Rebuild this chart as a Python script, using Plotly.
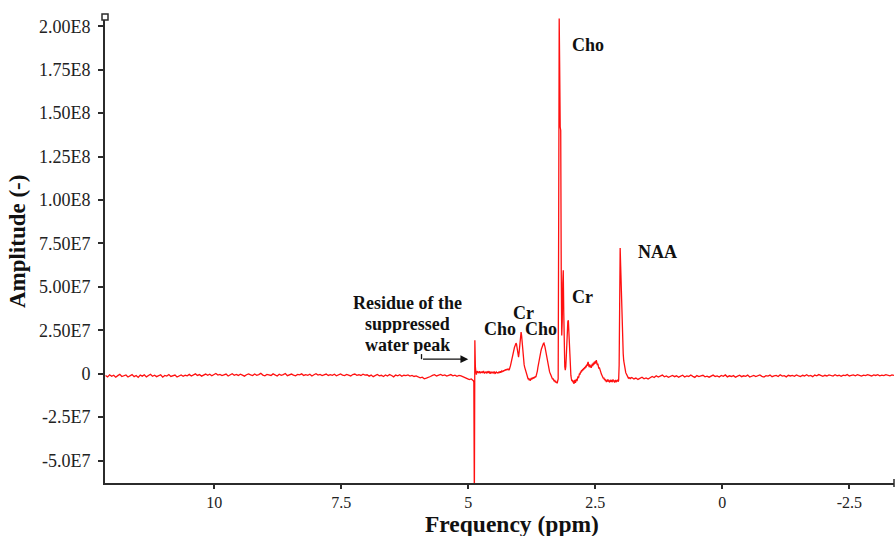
import numpy as np
import plotly.graph_objects as go

# ---------------- data (amplitudes in units of 1e6) ----------------
# each segment: ppm start, ppm end, amplitudes (evenly spaced)
left_baseline = [
    -1.0, -1.8, -0.6, -1.5, -0.9, -2.0, -1.1, -0.4, -1.6, -1.2,
    -0.7, -1.9, -1.3, -0.5, -1.7, -1.0, -2.1, -0.8, -1.4, -0.6,
    -1.8, -1.1, -0.3, -1.5, -0.9, -1.7, -1.2, -0.6, -2.0, -1.0,
    -1.4, -0.5, -1.6, -1.1, -0.8, -1.9, -1.3, -0.7, -1.5, -0.9,
    -1.2,
    -0.4, -1.3, -0.6, -0.1, -1.0, -0.5, -1.4, -0.8, -0.2, -0.9,
    -0.3, -1.2, -0.7, 0.1, -0.8, -0.4, -1.1, -0.6, -0.2, -1.3,
    -0.5, 0.0, -0.9, -0.4, -1.0, -0.3, -0.8, -1.4, -0.6, -0.1,
    -0.7, -1.1, -0.2, -0.9, -0.5, 0.2, -0.8, -1.2, -0.4, -0.6,
    -1.0, -0.1, -0.7, -1.3, -0.3, -0.9, -0.5, 0.1, -1.1, -0.6,
    -0.2, -0.8, -1.2, -0.4, -0.7, -0.1, -1.0, -0.5, -0.9, -0.3,
    -1.3, -0.6, 0.0, -0.8, -0.4, -1.1, -0.7, -0.2, -1.0, -0.5,
    -0.9, -0.3, -1.2, -0.6, -0.1, -0.8, -1.1, -0.4, -0.7, -1.3,
    -0.5, -0.2, -0.9, -0.6, -1.0, -0.3, -0.8,
    -0.6, -1.4, -0.8, -1.7, -1.1, -0.4, -1.2, -0.9, -1.6, -0.7,
    -1.3, -0.5, -1.0, -1.8, -0.8, -1.2, -0.6, -1.5, -0.9, -1.1,
    -0.7, -1.4, -1.0, -1.6, -1.3,
    -1.8, -2.4, -2.0, -2.9, -2.5, -2.2, -1.6,
    -1.0, -0.6, -1.3, -0.8, -0.4, -1.1, -0.7, -1.4, -0.9, -0.5,
    -1.2, -0.8, -1.5, -1.0, -1.3, -1.7, -2.2, -2.8, -3.4, -3.0, -4.0,
]
water_region = [
    -5.0, -75.0, 19.3, 4.0, 1.0, -0.5, 0.8, 1.5, 0.6, 1.2,
    0.3, 1.4, 0.9, 0.2, 1.1, 0.5, 1.3, 0.4, 0.9, 1.6,
    0.7, 0.1, 1.0, 0.6, 1.3, 0.2, 0.8, 1.1, 0.4, 0.9,
    1.5, 0.5, 0.0, 0.8, 1.2, 0.3, 0.7, 1.0, 0.2, 0.6,
    1.3, 0.5, -0.1, 0.7, 1.0, 0.4, 0.9, 0.2, 0.6, 1.1,
    0.5, 0.8, 1.4, 0.6, 0.9, 1.5, 1.0, 1.7, 1.2, 2.0,
    1.6, 2.3, 1.8, 2.5, 2.0, 2.7, 2.2, 2.9, 2.4,
]
cho_cr_small = [
    2.0, 2.6, 3.2, 4.5, 5.8, 7.5, 9.0, 10.8, 12.5, 13.8,
    14.5, 15.2, 16.0, 17.0, 17.6, 17.0, 15.5, 13.0, 10.5, 9.5,
    12.0, 16.5, 20.5, 23.5, 24.0, 22.0, 17.5, 13.0, 9.5, 7.0,
    5.2, 3.8, 2.6, 1.5, 0.8,
]
cho_second = [
    0.0, -1.5, -2.5, -3.2, -2.6, -3.8, -3.0, -4.0, -3.3, -2.5,
    -3.4, -2.2, -3.0, -2.0, -2.8, -1.8, -2.4, -1.5, -2.0, -1.2,
    -0.5, 1.5, 3.5, 5.5, 7.5, 9.0, 10.5, 11.8, 13.0, 14.2,
    15.2, 16.2, 17.0, 17.4, 17.6, 16.8,
    15.5, 13.8, 12.0, 10.0, 8.2, 6.4, 4.8, 3.4, 2.2, 1.2,
    0.4, -0.5, -1.2, -1.9,
    -2.6, -3.2, -2.8, -3.9, -4.3, -3.6, -4.9, -4.1, -5.3, -4.7,
]
cho_cr_main = [
    -5.5, -4.8, -3.0, 90.0, 204.5, 175.0, 142.0, 140.0, 60.0, 22.0,
    30.0, 52.0, 59.6, 35.0, 12.0, 4.0, 2.0, 4.0, 10.0, 19.0,
    26.0, 30.0, 30.8, 24.0, 13.0, 4.0,
]
multiplet = [
    0.0, -1.0, -3.0, -4.2, -3.5, -5.0, -4.0, -5.8, -4.5, -3.6,
    -5.2, -4.0, -3.0, -4.3, -2.8, -1.6, -2.5, -0.8, 0.2, -0.5,
    1.2, 0.6, 2.0, 1.4, 2.6, 2.0, 3.2, 2.5, 3.8, 3.0,
    4.5, 3.6, 5.2, 4.5, 6.0, 6.8, 5.0, 3.8, 5.4, 3.6,
    4.8, 3.4, 4.2, 5.6, 4.4, 6.2, 5.0, 6.8, 5.6, 7.2,
    6.0, 7.8, 6.5, 5.0, 5.8, 4.0, 3.0, 3.6, 2.0, 1.2,
    0.8, -0.2, -1.0, -0.6, -2.0, -2.8, -2.2, -3.6, -3.0, -4.2,
    -3.4, -4.8, -3.8, -4.4, -3.2, -4.6, -3.9, -5.0, -4.1, -3.5,
    -4.7, -3.6, -4.9, -4.0, -3.3, -4.5, -3.8, -5.1, -4.2, -3.6,
    -4.8, -3.9, -4.4, -3.5, -4.6, -3.8,
]
naa = [
    5.0, 55.0, 72.3, 62.0, 48.0, 36.0, 25.0, 17.0, 11.5, 7.5,
    5.0, 3.0, 1.8, 0.6, 0.0, -0.8, -1.6, -1.2, -2.4, -2.0,
    -2.8, -2.2, -3.0, -2.5,
]
right_baseline = [
    -2.2, -3.0, -2.5, -3.3, -2.7, -2.0, -2.9, -2.4, -3.1, -2.3,
    -1.6, -2.2, -1.2, -1.9, -1.4, -0.8, -1.8, -1.3, -2.1, -1.5,
    -1.0, -1.7, -1.2, -2.0, -1.4, -0.9, -1.9, -1.3, -1.6, -0.7,
    -1.5, -2.1, -1.1, -1.7, -1.3, -0.9, -1.8, -1.4, -2.0, -1.2,
    -0.8, -1.6, -1.3, -1.9, -1.0, -1.5, -0.7, -1.8, -1.2, -1.6,
    -1.1, -2.0, -1.4, -0.9, -1.7, -1.2, -1.5, -0.8, -1.9, -1.3,
    -1.0, -1.6, -1.2, -0.7, -1.5, -1.9, -1.1, -1.4, -0.8, -1.7,
    -1.2, -1.0, -1.6, -0.6, -1.4, -1.1, -1.8, -0.9, -1.3, -1.0,
    -1.5, -0.7, -1.2, -1.6, -0.9, -1.3, -0.6, -1.4, -1.0, -1.7,
    -0.8, -1.2, -0.5, -1.1, -1.5, -0.9, -1.3, -0.7, -1.0, -1.4,
    -0.6, -1.2, -0.9, -1.5, -0.8, -1.1, -0.5, -1.3, -1.0, -0.7,
    -1.2, -0.6, -1.0, -1.4, -0.8, -1.1, -0.5, -0.9, -1.3, -0.7,
    -1.0, -0.6, -1.2, -0.8, -1.1, -0.5, -0.9, -1.2, -0.7, -1.0,
]

segments = [
    (12.14, 4.90, left_baseline),
    (4.89, 4.21, water_region),
    (4.20, 3.86, cho_cr_small),
    (3.85, 3.26, cho_second),
    (3.25, 3.00, cho_cr_main),
    (2.99, 2.04, multiplet),
    (2.03, 1.80, naa),
    (1.78, -3.38, right_baseline),
]

x_ticks = [10, 7.5, 5, 2.5, 0, -2.5]
x_ticktext = ["10", "7.5", "5", "2.5", "0", "-2.5"]
y_ticks = [2.0e8, 1.75e8, 1.5e8, 1.25e8, 1.0e8, 7.5e7, 5.0e7, 2.5e7, 0, -2.5e7, -5.0e7]
y_ticktext = ["2.00E8", "1.75E8", "1.50E8", "1.25E8", "1.00E8", "7.50E7",
              "5.00E7", "2.50E7", "0", "-2.5E7", "-5.0E7"]

# peak labels: (text, ppm, amplitude)
peak_labels = [
    ("Cho", 2.65, 1.892e8),
    ("Cr", 2.76, 4.41e7),
    ("NAA", 1.28, 7.00e7),
    ("Cr", 3.92, 3.47e7),
    ("Cho", 4.37, 2.56e7),
    ("Cho", 3.56, 2.56e7),
]
water_note = [("Residue of the", 6.19, 4.06e7),
              ("suppressed", 6.19, 2.85e7),
              ("water peak", 6.19, 1.64e7)]

# ---------------- build ----------------
ppm = np.concatenate([np.linspace(a, b, len(v)) for a, b, v in segments])
amp = np.concatenate([np.array(v) * 1e6 for _, _, v in segments])

SERIF = "Liberation Serif, Times New Roman, serif"
AX = "#2b2b2b"

fig = go.Figure()
fig.add_trace(go.Scatter(x=ppm, y=amp, mode="lines",
                         line=dict(color="#ff1010", width=1.3), showlegend=False,
                         hoverinfo="skip"))

annotations = []
for t, x, y in peak_labels:
    annotations.append(dict(text=t, x=x, y=y, xref="x", yref="y", showarrow=False,
                            font=dict(family=SERIF, size=18, color="#111", weight="bold"),
                            xanchor="center", yanchor="middle"))
for t, x, y in water_note:
    annotations.append(dict(text=t, x=x, y=y, xref="x", yref="y", showarrow=False,
                            height=18, valign="middle",
                            font=dict(family=SERIF, size=18, color="#111", weight="bold"),
                            xanchor="center", yanchor="middle"))
# arrow pointing at the water residue
annotations.append(dict(text="", x=5.0, y=8.35e6, ax=5.92, ay=8.35e6, xref="x", yref="y",
                        axref="x", ayref="y", showarrow=True, arrowhead=2, arrowsize=1.2,
                        arrowwidth=1.3, arrowcolor="#111", standoff=0))
# axis titles
annotations.append(dict(text="Amplitude (-)", x=-0.111, y=0.52, xref="paper", yref="paper",
                        showarrow=False, textangle=-90, xanchor="center", yanchor="middle",
                        font=dict(family=SERIF, size=23, color="#111", weight="bold")))
annotations.append(dict(text="Frequency (ppm)", x=0.516, y=-0.089, xref="paper", yref="paper",
                        showarrow=False, xanchor="center", yanchor="middle",
                        font=dict(family=SERIF, size=23.5, color="#111", weight="bold")))

shapes = [
    dict(type="line", xref="x", yref="y", x0=5.92, x1=5.92, y0=8.35e6, y1=11.3e6,
         line=dict(color="#111", width=1.3)),
    dict(type="rect", xref="paper", yref="paper", xsizemode="pixel", ysizemode="pixel",
         xanchor=0, yanchor=1, x0=-3, x1=3, y0=-3, y1=3,
         line=dict(color=AX, width=1.5), fillcolor="white"),
    dict(type="line", xref="paper", yref="paper", ysizemode="pixel", yanchor=0,
         x0=1, x1=1, y0=-4, y1=4, line=dict(color=AX, width=1.5)),
]

fig.update_layout(
    width=896, height=536,
    margin=dict(l=105, r=2, t=17, b=53),
    paper_bgcolor="white", plot_bgcolor="white",
    annotations=annotations, shapes=shapes,
    xaxis=dict(range=[12.15, -3.38], tickvals=x_ticks, ticktext=x_ticktext,
               ticks="outside", ticklen=4, tickwidth=2, tickcolor=AX,
               showline=True, linecolor=AX, linewidth=2, showgrid=False, zeroline=False,
               tickfont=dict(family=SERIF, size=16, color="#222")),
    yaxis=dict(range=[-6.29e7, 2.053e8], tickvals=y_ticks, ticktext=y_ticktext,
               ticks="outside", ticklen=5, tickwidth=2, tickcolor=AX,
               showline=True, linecolor=AX, linewidth=2, showgrid=False, zeroline=False,
               ticklabelstandoff=4,
               tickfont=dict(family=SERIF, size=18, color="#222")),
)

fig.write_html("out.html", config={"displayModeBar": False},
               post_script="document.body.style.margin='0';document.body.style.overflow='hidden';")
